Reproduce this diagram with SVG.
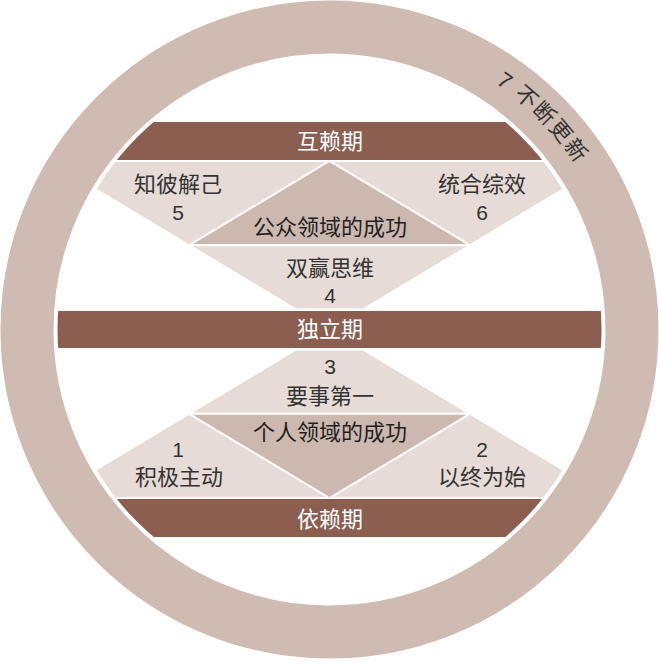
<svg xmlns="http://www.w3.org/2000/svg" width="659" height="667" viewBox="0 0 659 667">
<defs>
<style>
.ring{fill:none;stroke:#CFBBB2;stroke-width:53}
.bar{fill:#8B5E50}
.lt{fill:#E6DBD6;stroke:#fff;stroke-width:2;stroke-linejoin:miter}
.mid{fill:#CDB8AF;stroke:#fff;stroke-width:2}
text{font-family:'Liberation Sans','Noto Sans CJK SC',sans-serif;font-size:22px;text-anchor:middle}
.n{font-size:21px}
.w{fill:#fff}
.d{fill:#333}
.k{fill:#1f1f1f}
</style>
<clipPath id="inner"><circle cx="329.5" cy="329.5" r="272"/></clipPath>
<path id="arc7" d="M478,72.3 A297,297 0 0 1 608.6,227.9"/>
</defs>
<rect width="659" height="667" fill="#fff"/>
<g id="ring">
<circle class="ring" cx="329.5" cy="329.5" r="302.5"/>
<text class="d" style="text-anchor:start;letter-spacing:1.6px"><textPath href="#arc7" startOffset="20.7">7 不断更新</textPath></text>
</g>
<g id="shapes" clip-path="url(#inner)">
<g id="bar-interdependence"><rect class="bar" x="0" y="122" width="659" height="38"/></g>
<g id="p5"><polygon class="lt" points="48.7,161 329.5,161 189.1,245.25"/></g>
<g id="p6"><polygon class="lt" points="610.3,161 329.5,161 469.9,245.25"/></g>
<g id="public"><polygon class="mid" points="329.5,161 189.1,245.25 469.9,245.25"/></g>
<g id="p4"><polygon class="lt" points="189.1,245.25 469.9,245.25 362.8,309.5 296.2,309.5"/></g>
<g id="bar-independence"><rect class="bar" x="0" y="311" width="659" height="37"/></g>
<g id="p3"><polygon class="lt" points="189.1,413.75 469.9,413.75 362.8,349.5 296.2,349.5"/></g>
<g id="p1"><polygon class="lt" points="48.7,498 329.5,498 189.1,413.75"/></g>
<g id="p2"><polygon class="lt" points="610.3,498 329.5,498 469.9,413.75"/></g>
<g id="private"><polygon class="mid" points="329.5,498 189.1,413.75 469.9,413.75"/></g>
<g id="bar-dependence"><rect class="bar" x="0" y="499" width="659" height="38"/></g>
</g>
<g id="labels">
<text class="w" x="330" y="148.5">互赖期</text>
<text class="d" x="178" y="192">知彼解己</text>
<text class="d n" x="178" y="220">5</text>
<text class="d" x="482" y="192">统合综效</text>
<text class="d n" x="482" y="220">6</text>
<text class="k" x="330" y="234.5">公众领域的成功</text>
<text class="d" x="330" y="275.5">双赢思维</text>
<text class="d n" x="330" y="303">4</text>
<text class="w" x="330" y="337">独立期</text>
<text class="d n" x="330" y="374">3</text>
<text class="d" x="330" y="404">要事第一</text>
<text class="k" x="330" y="439.5">个人领域的成功</text>
<text class="d n" x="178" y="457">1</text>
<text class="d" x="179" y="484.5">积极主动</text>
<text class="d n" x="482" y="457">2</text>
<text class="d" x="482" y="484.5">以终为始</text>
<text class="w" x="330" y="526.5">依赖期</text>
</g>
</svg>
